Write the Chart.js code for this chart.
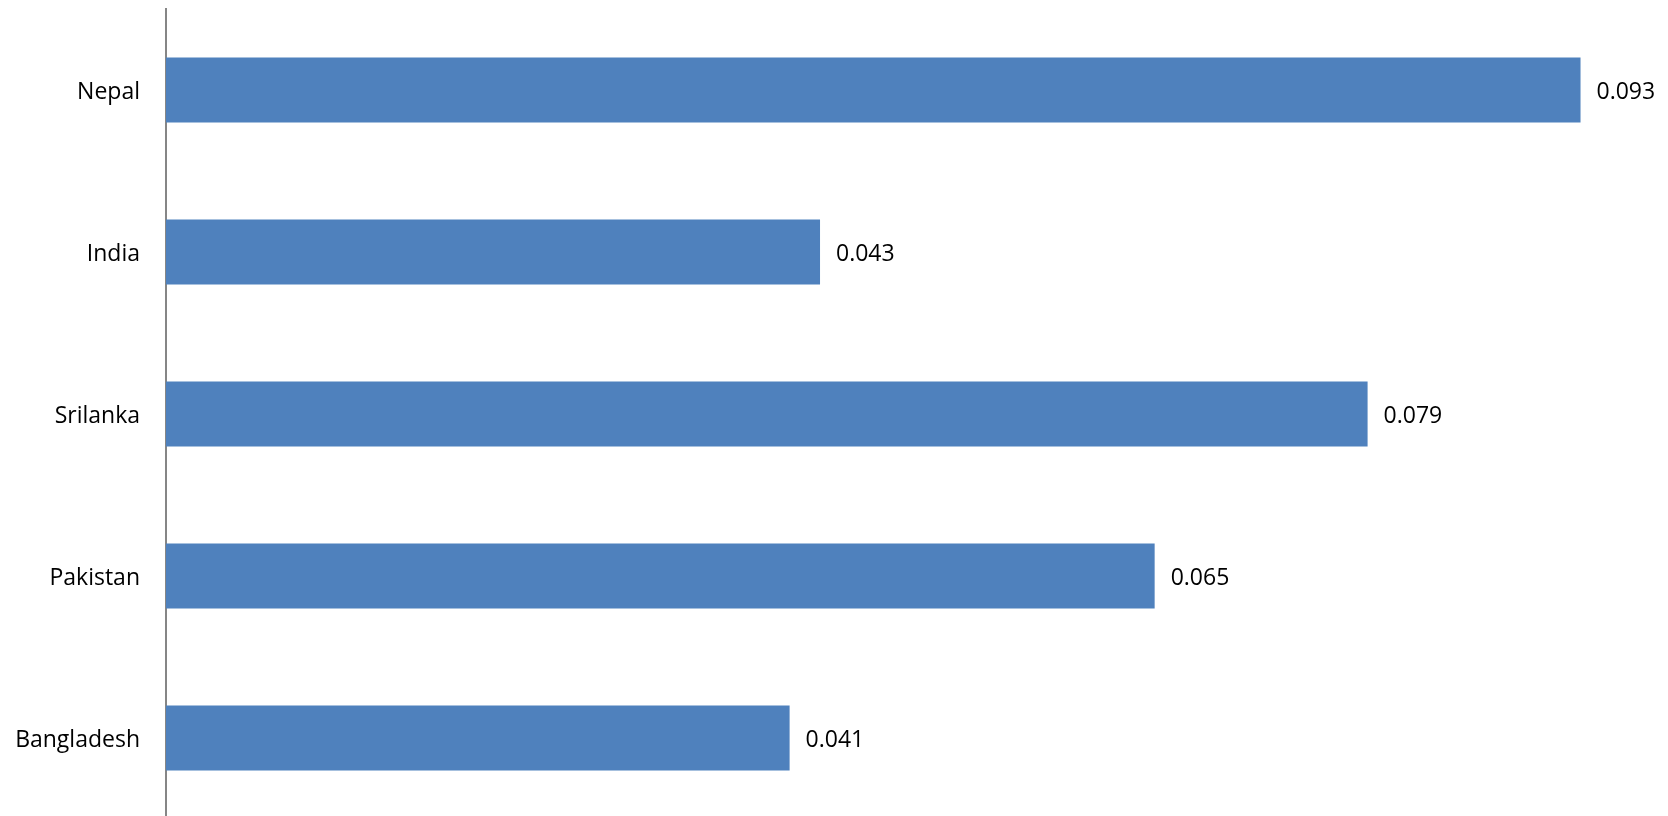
<!DOCTYPE html>
<html>
<head>
<meta charset="utf-8">
<script src="https://cdn.jsdelivr.net/npm/chart.js@4/dist/chart.umd.min.js"></script>
<style>
html,body{margin:0;padding:0;background:#fff;overflow:hidden;}
#wrap{width:1687px;height:819px;}
</style>
</head>
<body>
<div id="wrap"><canvas id="c" width="1687" height="819"></canvas></div>
<script>
const categories = ["Nepal", "India", "Srilanka", "Pakistan", "Bangladesh"];
const values = [0.093, 0.043, 0.079, 0.065, 0.041];
const valueLabels = ["0.093", "0.043", "0.079", "0.065", "0.041"];

const FONT = "'Open Sans', 'Noto Sans', sans-serif";

const barLabels = {
  id: 'barLabels',
  afterDatasetsDraw(chart) {
    const ctx = chart.ctx;
    const meta = chart.getDatasetMeta(0);
    ctx.save();
    ctx.font = "23px " + FONT;
    ctx.fillStyle = "#000";
    ctx.textAlign = "left";
    ctx.textBaseline = "middle";
    meta.data.forEach((el, i) => {
      ctx.fillText(valueLabels[i], el.x + 16, el.y + 2);
    });
    ctx.restore();
  }
};

new Chart(document.getElementById('c'), {
  type: 'bar',
  data: {
    labels: categories,
    datasets: [{
      data: values,
      backgroundColor: '#4F81BD',
      borderWidth: 0,
      categoryPercentage: 0.4,
      barPercentage: 1.0
    }]
  },
  options: {
    indexAxis: 'y',
    responsive: false,
    animation: false,
    layout: { autoPadding: false, padding: { top: 9, left: 0, right: 0, bottom: 0 } },
    plugins: { legend: { display: false }, tooltip: { enabled: false } },
    scales: {
      x: { display: false, min: 0, max: 0.1 },
      y: {
        afterFit(scale) { scale.width = 166; scale.paddingTop = 0; scale.paddingBottom = 0; },
        grid: { display: false, drawTicks: false },
        border: { display: true, color: '#868686', width: 2 },
        ticks: { color: '#000', padding: 26, labelOffset: 2, font: { size: 23, family: FONT } }
      }
    }
  },
  plugins: [barLabels]
});
</script>
</body>
</html>
